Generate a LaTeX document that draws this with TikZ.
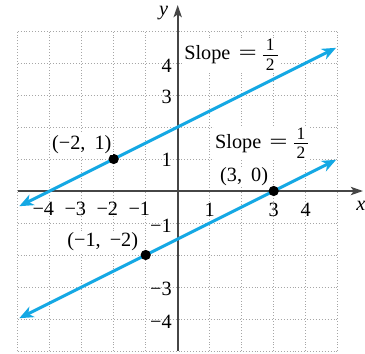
\documentclass[tikz,border=0pt]{standalone}
\usepackage{fontspec}
\usepackage{graphicx}
\setmainfont{Liberation Serif}
\usetikzlibrary{arrows.meta}
\definecolor{lineblue}{RGB}{20,168,228}
\definecolor{axisgray}{RGB}{70,70,70}
\newcommand{\halffrac}{\ensuremath{\vcenter{\fontsize{15.5}{15.5}\selectfont\hbox{\vbox{%
  \hbox to 13pt{\hss 1\hss}\kern3.2pt\hrule height 0.6pt\kern3.2pt
  \hbox to 13pt{\hss\vrule width 0pt height 10.4pt 2\hss}}}}}}
\newcommand{\slopetext}{Slope\hspace{0.4em}\scalebox{1.6}[1]{=}\hspace{0.3em}\halffrac}
\newcommand{\cm}{,\hspace{0.45em}}
\begin{document}
\begin{tikzpicture}[x=1cm,y=1cm,
  font=\fontsize{18}{21}\selectfont,
  gridline/.style={draw=gray!70, line width=0.6pt, dotted},
  axisline/.style={draw=axisgray, line width=1.5pt, -{Stealth[length=3.8mm,width=2.6mm,inset=0.9mm]}},
  blueline/.style={draw=lineblue, line width=2.7pt, {Stealth[length=4.4mm,width=3.6mm,inset=1.3mm]}-{Stealth[length=4.4mm,width=3.6mm,inset=1.3mm]}},
  dotpt/.style={circle, fill=black, inner sep=0pt, minimum size=3.2mm},
  lbl/.style={fill=white, inner sep=1pt, anchor=base west},
  xtick/.style={inner sep=0pt},
  ytick/.style={anchor=east, inner sep=0pt}
]
\useasboundingbox (-5.553,-5.0625) rectangle (5.853,5.969);
\fill[white] (-5.553,-5.0625) rectangle (5.853,5.969);
% grid
\draw[gridline] (-5,-5) grid (5,5);
% axes
\coordinate (xl) at (-5,0);
\coordinate (xr) at (5.79,0);
\coordinate (yb) at (0,-5);
\coordinate (yt) at (0,5.81);
\draw[axisline] (xl) -- (xr);
\draw[axisline] (yb) -- (yt);
\node[xtick] (xlab) at (5.72,-0.47) {\itshape x};
\node[xtick] (ylab) at (-0.44,5.56) {\itshape y};
% x tick labels
\foreach \v in {-4,-3,-2,-1}{
  \pgfmathtruncatemacro{\a}{-\v}
  \node[xtick] (xt\a m) at (\v-0.02,-0.55) {\llap{−}\a};
}
\foreach \v in {1,3,4}{
  \node[xtick] (xt\v) at (\v,-0.58) {\v};
}
% y tick labels
\node[ytick] (yt4) at (-0.18,3.92) {4};
\node[ytick] (yt3) at (-0.18,2.94) {3};
\node[ytick] (yt1) at (-0.18,0.96) {1};
\node[ytick] (ytm1) at (-0.18,-1.1) {−1};
\node[ytick] (ytm3) at (-0.18,-3.05) {−3};
\node[ytick] (ytm4) at (-0.18,-4.08) {−4};
% lines
\coordinate (a1) at (-4.95,-0.475);
\coordinate (a2) at (4.95,4.475);
\coordinate (b1) at (-4.95,-3.975);
\coordinate (b2) at (4.95,0.975);
\draw[blueline] (a1) -- (a2);
\draw[blueline] (b1) -- (b2);
% points
\node[dotpt] (p1) at (-2,1) {};
\node[dotpt] (p2) at (3,0) {};
\node[dotpt] (p3) at (-1,-2) {};
% labels
\node[lbl] (s1) at (0.165,4.1) {\slopetext};
\node[lbl] (s2) at (1.13,1.34) {\slopetext};
\node[lbl] (l1) at (-3.965,1.31) {(−2\cm 1)};
\node[lbl] (l2) at (1.285,0.29) {(3\cm 0)};
\node[lbl] (l3) at (-3.49,-1.74) {(−1\cm −2)};
\end{tikzpicture}
\end{document}
